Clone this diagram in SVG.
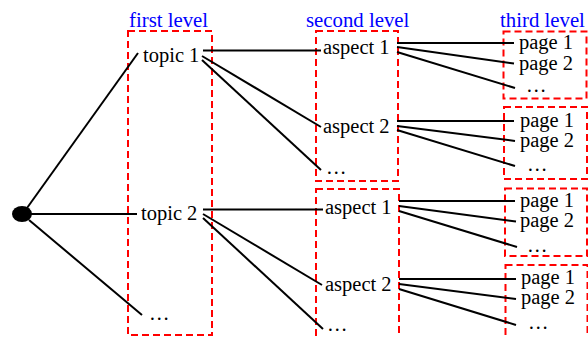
<svg xmlns="http://www.w3.org/2000/svg" width="588" height="337" viewBox="0 0 588 337">
<style>
text{font-family:'Liberation Serif','DejaVu Serif',serif;font-size:20.5px;fill:#000}
.lvl{fill:#0000ff;font-size:20.8px}
.box{fill:none;stroke:#ff0000;stroke-width:2;stroke-dasharray:7,4}
.c line{stroke:#000;stroke-width:2}
</style>
<rect width="588" height="337" fill="#fff"/>
<g id="levels">
<text class="lvl" x="129" y="27">first level</text>
<text class="lvl" x="306" y="27">second level</text>
<text class="lvl" x="500" y="27">third level</text>
</g>
<g id="boxes">
<rect class="box" x="128" y="31" width="84" height="304"/>
<rect class="box" x="316" y="31" width="82" height="150"/>
<rect class="box" x="316" y="189" width="83" height="150"/>
<rect class="box" x="503.5" y="31.5" width="83" height="67"/>
<rect class="box" x="504" y="107" width="83" height="72"/>
<rect class="box" x="505" y="188.5" width="82" height="67.5"/>
<rect class="box" x="505.5" y="265" width="82" height="74"/>
</g>
<g class="c" id="connectors">
<line x1="27" y1="208" x2="138" y2="53"/>
<line x1="30" y1="214" x2="137" y2="214"/>
<line x1="29" y1="220" x2="142" y2="315"/>
<line x1="203" y1="50.5" x2="321" y2="50.5"/>
<line x1="202" y1="56" x2="321" y2="127"/>
<line x1="202" y1="60" x2="321" y2="170"/>
<line x1="203" y1="209.5" x2="323" y2="209.5"/>
<line x1="203" y1="214" x2="322" y2="285"/>
<line x1="203" y1="218" x2="323" y2="329"/>
<line x1="397" y1="43" x2="514" y2="43"/>
<line x1="397" y1="47" x2="514" y2="63.5"/>
<line x1="397" y1="52" x2="515" y2="88"/>
<line x1="397" y1="121" x2="514" y2="121"/>
<line x1="397" y1="126" x2="515" y2="141"/>
<line x1="397" y1="130" x2="515" y2="166"/>
<line x1="399" y1="201" x2="515" y2="201"/>
<line x1="399" y1="206" x2="516" y2="221.5"/>
<line x1="399" y1="211" x2="517" y2="247"/>
<line x1="399" y1="279" x2="516" y2="279"/>
<line x1="399" y1="284" x2="516" y2="299"/>
<line x1="399" y1="289" x2="516" y2="325"/>
</g>
<g id="root"><ellipse cx="22" cy="214" rx="10" ry="8" fill="#000"/></g>
<g id="topic1"><text x="143" y="62">topic 1</text></g>
<g id="topic2"><text x="141" y="220">topic 2</text></g>
<g id="topic-more"><text x="149" y="320">…</text></g>
<g id="t1-aspect1"><text x="323" y="54">aspect 1</text></g>
<g id="t1-aspect2"><text x="323" y="133">aspect 2</text></g>
<g id="t1-more"><text x="326" y="174">…</text></g>
<g id="t2-aspect1"><text x="325" y="214">aspect 1</text></g>
<g id="t2-aspect2"><text x="325" y="291">aspect 2</text></g>
<g id="t2-more"><text x="327" y="331">…</text></g>
<g id="p11"><text x="519" y="49">page 1</text><text x="519" y="70">page 2</text><text x="526" y="92">…</text></g>
<g id="p12"><text x="520" y="127">page 1</text><text x="520" y="147">page 2</text><text x="527" y="171">…</text></g>
<g id="p21"><text x="520" y="207">page 1</text><text x="520" y="227">page 2</text><text x="527" y="252">…</text></g>
<g id="p22"><text x="521" y="284">page 1</text><text x="521" y="304">page 2</text><text x="528" y="329">…</text></g>
</svg>
